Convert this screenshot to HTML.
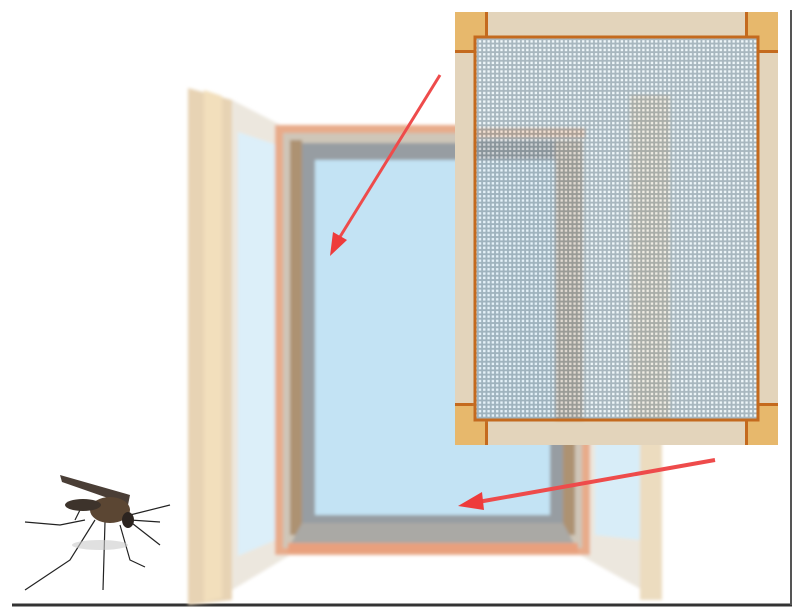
<!DOCTYPE html>
<html><head><style>body{margin:0;background:#fff}svg{display:block}</style></head>
<body>
<svg width="800" height="614" viewBox="0 0 800 614" xmlns="http://www.w3.org/2000/svg">
<defs>
<pattern id="mesh" width="4.3" height="4.3" patternUnits="userSpaceOnUse">
<rect width="4.3" height="4.3" fill="#8a959c"/>
<rect x="1.5" y="1.5" width="2.4" height="2.4" fill="#ffffff"/>
</pattern>
<filter id="b"><feGaussianBlur stdDeviation="1.5"/></filter>
</defs>
<rect width="800" height="614" fill="#fff"/>
<line x1="12" y1="605" x2="792" y2="605" stroke="#333" stroke-width="3"/>
<line x1="791" y1="10" x2="791" y2="605" stroke="#555" stroke-width="2"/>
<g filter="url(#b)">
<polygon points="188,88 232,100 232,600 188,605" fill="#e7d3b4"/>
<polygon points="204,90 222,96 222,598 204,602" fill="#f2dfbc"/>
<polygon points="232,100 290,130 290,555 232,590" fill="#ece7de"/>
<polygon points="238,132 280,146 280,538 238,556" fill="#dceff9"/>
<polygon points="580,140 660,120 660,600 580,555" fill="#ece7de"/>
<polygon points="595,150 640,140 640,540 595,535" fill="#d8edf8"/>
<rect x="640" y="120" width="22" height="480" fill="#ecdcbf"/>
<rect x="275" y="125" width="315" height="430" fill="#e8ab8a"/>
<rect x="283" y="133" width="299" height="415" fill="#cfc6b8"/>
<rect x="290" y="140" width="12" height="395" fill="#ad9272"/>
<rect x="563" y="140" width="12" height="395" fill="#ad9272"/>
<rect x="302" y="143" width="261" height="380" fill="#979da2"/>
<rect x="315" y="160" width="235" height="355" fill="#c3e3f4"/>
<polygon points="302,523 563,523 575,545 290,545" fill="#aaa9a5"/>
<rect x="288" y="543" width="290" height="10" fill="#e9a07d"/>
</g>
<line x1="440" y1="75" x2="338" y2="240" stroke="#ee4b4b" stroke-width="3"/>
<polygon points="330,256 333,232 347,240" fill="#ee3b3b"/>
<line x1="715" y1="460" x2="478" y2="502" stroke="#ee4b4b" stroke-width="4"/>
<polygon points="458,506 482,492 484,510" fill="#ee3b3b"/>
<rect x="455" y="12" width="323" height="433" fill="#e3d4bb"/>
<rect x="455" y="12" width="30" height="41" fill="#e7b86c"/>
<rect x="748" y="12" width="30" height="41" fill="#e7b86c"/>
<rect x="455" y="403" width="30" height="42" fill="#e7b86c"/>
<rect x="748" y="403" width="30" height="42" fill="#e7b86c"/>
<rect x="485" y="12" width="3" height="27" fill="#c46a1e"/>
<rect x="745" y="12" width="3" height="27" fill="#c46a1e"/>
<rect x="485" y="419" width="3" height="26" fill="#c46a1e"/>
<rect x="745" y="419" width="3" height="26" fill="#c46a1e"/>
<rect x="455" y="50" width="20" height="3" fill="#c46a1e"/>
<rect x="758" y="50" width="20" height="3" fill="#c46a1e"/>
<rect x="455" y="403" width="20" height="3" fill="#c46a1e"/>
<rect x="758" y="403" width="20" height="3" fill="#c46a1e"/>
<rect x="475" y="37" width="283" height="383" fill="#d6ebf3"/>
<g opacity="0.75" filter="url(#b)">
<rect x="475" y="160" width="80" height="260" fill="#b7dcef"/>
<rect x="475" y="128" width="110" height="10" fill="#e09a6a"/>
<rect x="475" y="140" width="80" height="20" fill="#6e747a"/>
<rect x="555" y="140" width="28" height="280" fill="#a88c6c"/>
<rect x="630" y="95" width="40" height="325" fill="#d8c8a8"/>
</g>
<rect x="475" y="37" width="283" height="383" fill="url(#mesh)" opacity="0.6"/>
<rect x="475" y="37" width="283" height="383" fill="none" stroke="#c46a1e" stroke-width="3"/>
<g stroke="#222" fill="none" stroke-width="1.2">
<path d="M85,520 L60,525 L25,522"/>
<path d="M95,520 L70,560 L25,590"/>
<path d="M105,522 L103,590"/>
<path d="M120,525 L130,560 L145,567"/>
<path d="M128,520 L160,545"/>
<path d="M130,515 L170,505"/>
<path d="M130,520 L160,522"/>
<path d="M85,500 L75,520"/>
</g>
<ellipse cx="100" cy="545" rx="28" ry="5" fill="#ccc" opacity="0.6"/>
<path d="M60,475 L130,495 L128,505 L62,482 Z" fill="#4a3e36"/>
<ellipse cx="110" cy="510" rx="20" ry="13" fill="#5b4633"/>
<ellipse cx="83" cy="505" rx="18" ry="6" fill="#3d332b"/>
<ellipse cx="128" cy="520" rx="6" ry="8" fill="#2c2420"/>
</svg>
</body></html>
